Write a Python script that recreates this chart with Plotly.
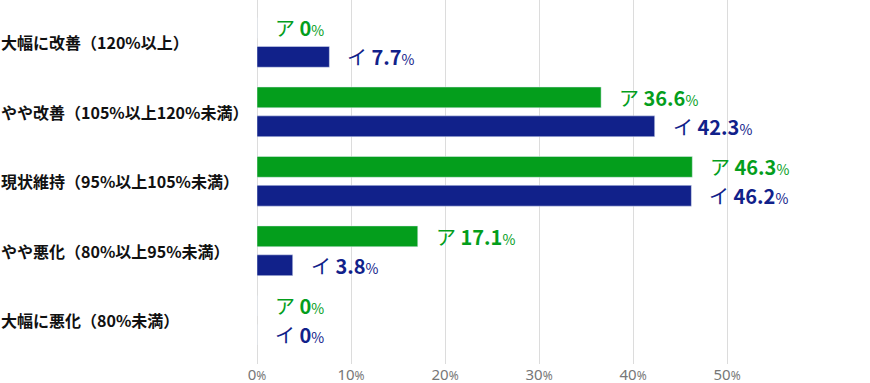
import plotly.graph_objects as go

categories = ["大幅に改善（120%以上）", "やや改善（105%以上120%未満）", "現状維持（95%以上105%未満）",
              "やや悪化（80%以上95%未満）", "大幅に悪化（80%未満）"]
series_a_name = "ア"
series_b_name = "イ"
series_a = [0, 36.6, 46.3, 17.1, 0]
series_b = [7.7, 42.3, 46.2, 3.8, 0]
tick_vals = [0, 10, 20, 30, 40, 50]
tick_labels = ["0", "10", "20", "30", "40", "50"]

GREEN = "#049e1c"
NAVY = "#11218a"
FONT = "Noto Sans CJK JP"

idx = list(range(len(categories)))
fig = go.Figure()
fig.add_trace(go.Bar(y=idx, x=series_a, orientation="h", marker_color=GREEN,
                     width=0.30, offset=-0.358, name=series_a_name, hoverinfo="x"))
fig.add_trace(go.Bar(y=idx, x=series_b, orientation="h", marker_color=NAVY,
                     width=0.30, offset=0.058, name=series_b_name, hoverinfo="x"))

annotations = []
for i, cat in enumerate(categories):
    annotations.append(dict(xref="paper", yref="y", x=0, y=i, xshift=-258, xanchor="left",
                            yanchor="middle", showarrow=False, text=f"<b>{cat}</b>",
                            font=dict(family=FONT, size=16, color="#111")))
    for val, name, color, ys in ((series_a[i], series_a_name, GREEN, 0.208),
                                 (series_b[i], series_b_name, NAVY, -0.208)):
        num = f"{val:g}"
        annotations.append(dict(xref="x", yref="y", x=val, y=i - ys, xanchor="left",
                                yanchor="middle", xshift=16, showarrow=False,
                                text=f"{name} <b>{num}</b><span style='font-size:14px'>%</span>",
                                font=dict(family=FONT, size=20, color=color)))

fig.update_layout(
    width=870, height=383,
    margin=dict(l=257, r=0, t=0, b=19),
    plot_bgcolor="white", paper_bgcolor="white",
    showlegend=False, barmode="overlay",
    annotations=annotations,
    xaxis=dict(range=[0, 65.2], tickvals=tick_vals,
               ticktext=[f"{t}<span style='font-size:12px'>%</span>" for t in tick_labels],
               showgrid=True, gridcolor="#dcdcdc", gridwidth=1,
               zeroline=True, zerolinecolor="#dcdcdc", zerolinewidth=1,
               tickfont=dict(family="Noto Sans", size=15, color="#777"),
               ticks="", automargin=False, fixedrange=True),
    yaxis=dict(range=[4.63, -0.61], showticklabels=False, showgrid=False,
               zeroline=False, automargin=False, fixedrange=True),
)

fig.write_html("out.html", config={"displayModeBar": False},
               post_script="document.body.style.margin='0';document.body.style.overflow='hidden';")
